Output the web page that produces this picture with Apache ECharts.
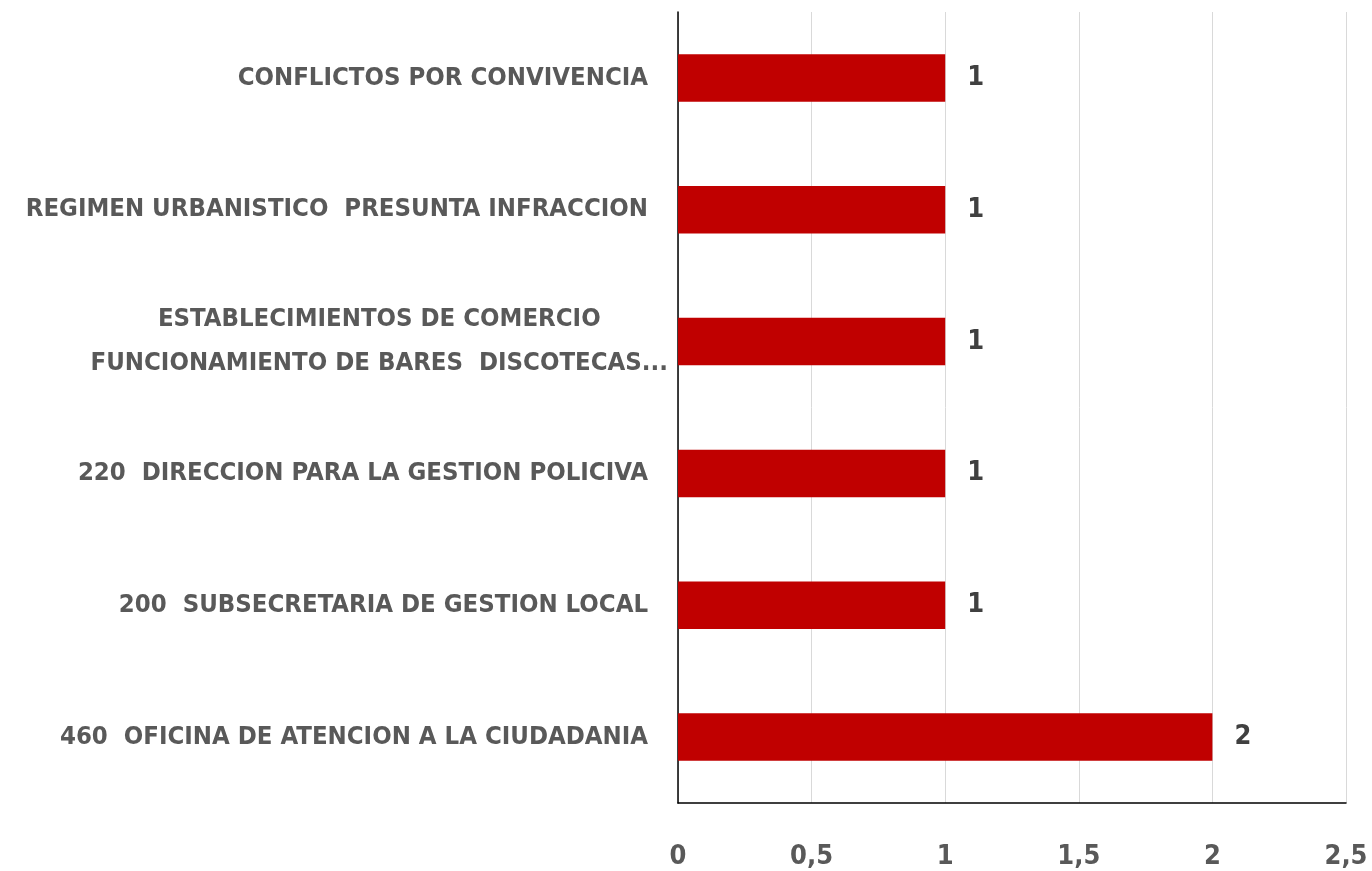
<!DOCTYPE html>
<html>
<head>
<meta charset="utf-8">
<script src="https://cdn.jsdelivr.net/npm/echarts@6/dist/echarts.min.js"></script>
<style>
html, body { margin: 0; padding: 0; background: #fff; }
#chart { width: 1372px; height: 871px; }
</style>
</head>
<body>
<div id="chart"></div>
<script>
// categories from bottom to top, as ECharts draws them
var categories = [
    '460  OFICINA DE ATENCION A LA CIUDADANIA',
    '200  SUBSECRETARIA DE GESTION LOCAL',
    '220  DIRECCION PARA LA GESTION POLICIVA',
    'ESTABLECIMIENTOS DE COMERCIO\nFUNCIONAMIENTO DE BARES  DISCOTECAS...',
    'REGIMEN URBANISTICO  PRESUNTA INFRACCION',
    'CONFLICTOS POR CONVIVENCIA'
];
var values = [2, 1, 1, 1, 1, 1];

var fontFam = '"Liberation Sans Narrow", "DejaVu Sans Condensed", "Liberation Sans", sans-serif';

// the wrapped label sits a bit closer to the axis, as in the original
var yData = categories.map(function (c) {
    if (c.indexOf('\n') >= 0) {
        return { value: c, textStyle: { padding: [0, -20, 0, 0] } };
    }
    return c;
});

var myChart = echarts.init(document.getElementById('chart'));
var option = {
    animation: false,
    grid: { left: 678, right: 26, top: 12, bottom: 68, containLabel: false, outerBoundsMode: 'none' },
    xAxis: {
        type: 'value',
        min: 0,
        max: 2.5,
        interval: 0.5,
        axisLine: { show: true, lineStyle: { color: '#000', width: 1.5 } },
        axisTick: { show: false },
        splitLine: { show: true, lineStyle: { color: '#d9d9d9', width: 1 } },
        axisLabel: {
            margin: 40,
            color: '#595959',
            fontFamily: fontFam,
            fontWeight: 'bold',
            fontSize: 27,
            formatter: function (v) { return String(v).replace('.', ','); }
        }
    },
    yAxis: {
        type: 'category',
        data: yData,
        axisLine: { show: true, lineStyle: { color: '#000', width: 1.5 } },
        axisTick: { show: false },
        axisLabel: {
            margin: 30,
            color: '#595959',
            fontFamily: fontFam,
            fontWeight: 'bold',
            fontSize: 25.5,
            lineHeight: 44,
            formatter: function (v) {
                if (v.indexOf('\n') >= 0) {
                    return v.split('\n').map(function (s) { return '{c|' + s + '}'; }).join('\n');
                }
                return v;
            },
            rich: {
                c: {
                    align: 'center',
                    color: '#595959',
                    fontFamily: fontFam,
                    fontWeight: 'bold',
                    fontSize: 25.5,
                    lineHeight: 44
                }
            }
        }
    },
    series: [{
        type: 'bar',
        data: values,
        barWidth: '36%',
        itemStyle: { color: '#c00000' },
        label: {
            show: true,
            position: 'right',
            distance: 22,
            color: '#404040',
            fontFamily: fontFam,
            fontWeight: 'bold',
            fontSize: 27
        }
    }]
};
myChart.setOption(option);
</script>
</body>
</html>
